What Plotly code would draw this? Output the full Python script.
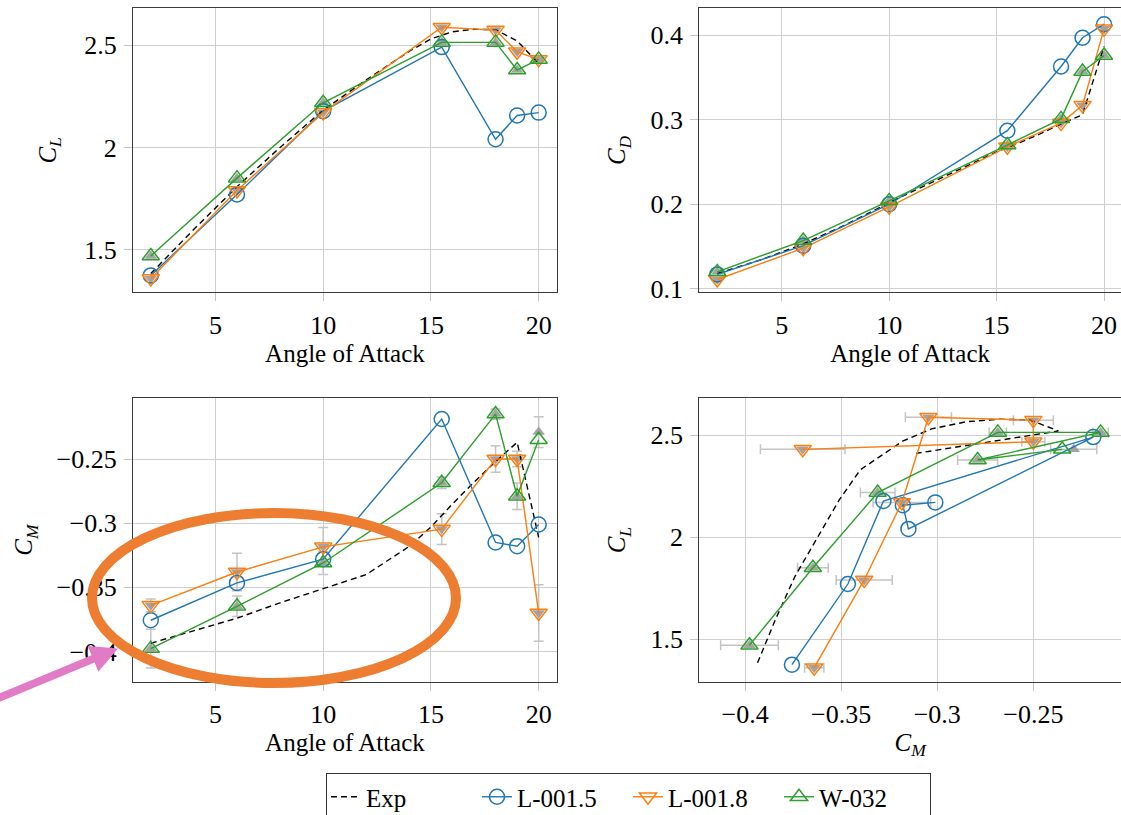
import plotly.graph_objects as go

# ---------------- data ----------------
alpha = [2, 6, 10, 15.5, 18, 19, 20]

exp_alpha = [2, 4, 6, 8, 10, 12, 14, 15, 16, 17, 18, 19, 20]
exp_cl = [1.384, 1.60, 1.808, 2.00, 2.182, 2.33, 2.47, 2.53, 2.565, 2.577, 2.575, 2.52, 2.41]
exp_cd = [0.118, 0.134, 0.153, 0.176, 0.202, 0.226, 0.250, 0.262, 0.272, 0.283, 0.295, 0.306, 0.387]
exp_cm = [-0.3935, -0.384, -0.374, -0.362, -0.351, -0.340, -0.318, -0.303, -0.285, -0.268, -0.252, -0.237, -0.311]

l15_cl = [1.375, 1.77, 2.177, 2.49, 2.04, 2.156, 2.17]
l15_cd = [0.117, 0.151, 0.200, 0.287, 0.363, 0.397, 0.413]
l15_cm = [-0.3756, -0.3465, -0.328, -0.2188, -0.315, -0.3179, -0.301]

l18_cl = [1.36, 1.79, 2.17, 2.587, 2.573, 2.467, 2.43]
l18_cd = [0.111, 0.148, 0.197, 0.268, 0.296, 0.317, 0.4075]
l18_cm = [-0.364, -0.338, -0.3184, -0.3046, -0.250, -0.250, -0.370]

w32_cl = [1.47, 1.85, 2.218, 2.513, 2.513, 2.378, 2.43]
w32_cd = [0.120, 0.157, 0.204, 0.270, 0.301, 0.357, 0.376]
w32_cm = [-0.3977, -0.3647, -0.331, -0.2685, -0.215, -0.279, -0.235]

# ensemble means (grey) with CM uncertainty
l18_mean_cl = [1.36, 1.79, 2.17, 2.587, 2.573, 2.467, 2.43]
l18_mean_cd = [0.111, 0.148, 0.197, 0.268, 0.296, 0.317, 0.4075]
l18_mean_cm = [-0.364, -0.338, -0.3184, -0.3046, -0.250, -0.250, -0.370]
l18_cm_err = [0.005, 0.0146, 0.015, 0.012, 0.0104, 0.006, 0.022]

w32_mean_cl = [1.47, 1.85, 2.218, 2.513, 2.513, 2.378, 2.43]
w32_mean_cd = [0.120, 0.157, 0.204, 0.270, 0.301, 0.357, 0.376]
w32_mean_cm = [-0.3977, -0.3647, -0.331, -0.2685, -0.215, -0.279, -0.229]
w32_cm_err = [0.015, 0.008, 0.009, 0.0045, 0.004, 0.0104, 0.012]

x_ticks = [5, 10, 15, 20]
cl_ticks = [1.5, 2, 2.5]
cd_ticks = [0.1, 0.2, 0.3, 0.4]
cm_ticks = [-0.4, -0.35, -0.3, -0.25]

# ---------------- style ----------------
W, H = 1121, 815
FONT = '"Liberation Serif", "Times New Roman", Tinos, "DejaVu Serif", serif'
BLUE, ORANGE, GREEN = "#1f77b4", "#ff7f0e", "#2ca02c"
GREY = "#a3a3a3"


def fx(p):
    return p / W


def fy(p):
    return 1 - p / H


series = [
    dict(name="Exp", a=exp_alpha, cl=exp_cl, cd=exp_cd, cm=exp_cm,
         line=dict(color="black", width=1.4, dash="6px,4px"), mode="lines", marker=None),
    dict(name="L-001.5", a=alpha, cl=l15_cl, cd=l15_cd, cm=l15_cm,
         line=dict(color=BLUE, width=1.4), mode="lines+markers",
         marker=dict(symbol="circle-open", size=15, color=BLUE, line=dict(width=1.5, color=BLUE))),
    dict(name="L-001.8", a=alpha, cl=l18_cl, cd=l18_cd, cm=l18_cm,
         line=dict(color=ORANGE, width=1.4), mode="lines+markers",
         marker=dict(symbol="triangle-down-open", size=15, color=ORANGE, line=dict(width=1.5, color=ORANGE))),
    dict(name="W-032", a=alpha, cl=w32_cl, cd=w32_cd, cm=w32_cm,
         line=dict(color=GREEN, width=1.4), mode="lines+markers",
         marker=dict(symbol="triangle-up-open", size=15, color=GREEN, line=dict(width=1.5, color=GREEN))),
]

means = [
    dict(a=alpha, cl=l18_mean_cl, cd=l18_mean_cd, cm=l18_mean_cm, err=l18_cm_err, symbol="triangle-down"),
    dict(a=alpha, cl=w32_mean_cl, cd=w32_mean_cd, cm=w32_mean_cm, err=w32_cm_err, symbol="triangle-up"),
]

panels = [("x", "y", "a", "cl"), ("x2", "y2", "a", "cd"), ("x3", "y3", "a", "cm"), ("x4", "y4", "cm", "cl")]

fig = go.Figure()

for pi, (xa, ya, kx, ky) in enumerate(panels):
    for m in means:
        kw = {}
        eb = dict(type="data", array=m["err"], color="#c4c4c4", thickness=1.5, width=5)
        if ky == "cm":
            kw["error_y"] = eb
        if kx == "cm":
            kw["error_x"] = eb
        fig.add_trace(go.Scatter(
            x=m[kx], y=m[ky], xaxis=xa, yaxis=ya, mode="lines+markers", showlegend=False,
            line=dict(color="rgba(170,170,170,0.35)", width=1),
            marker=dict(symbol=m["symbol"], size=11, color=GREY, line=dict(width=0)),
            hoverinfo="skip", **kw))
    for s in series:
        tr = dict(x=s[kx], y=s[ky], xaxis=xa, yaxis=ya, mode=s["mode"], name=s["name"],
                  line=s["line"], showlegend=(pi == 0), legendgroup=s["name"])
        if s["marker"] is not None:
            tr["marker"] = s["marker"]
        fig.add_trace(go.Scatter(**tr))

# ---------------- axes ----------------
left_dom = [fx(132.9), fx(557)]
right_dom = [fx(699.3), 1.0]
top_dom = [fy(292.4), fy(8.4)]
bot_dom = [fy(682), fy(398.3)]

TICKFONT = dict(family=FONT, size=26, color="black")
TITLEFONT = dict(family=FONT, size=25, color="black")


def axis(domain, rng, ticks, texts, anchor, mirror, title, is_x, standoff=None):
    if standoff is None:
        standoff = 5 if is_x else 17
    return dict(domain=domain, range=rng, tickmode="array", tickvals=ticks, ticktext=texts,
                anchor=anchor, showgrid=True, gridcolor="#cfcfcf", gridwidth=1, zeroline=False,
                showline=True, linecolor="#3a3a3a", linewidth=1, mirror=mirror,
                ticks="outside", ticklen=8, tickcolor="#c4c4c4", tickwidth=1,
                ticklabelstandoff=1 if is_x else 2,
                tickfont=TICKFONT, fixedrange=True, automargin=False,
                title=dict(text=title, font=TITLEFONT, standoff=standoff))


def fmt(v):
    return ("%g" % v).replace("-", "\u2212")


xt = [fmt(v) for v in x_ticks]
clt = [fmt(v) for v in cl_ticks]
cdt = [fmt(v) for v in cd_ticks]
cmt = [fmt(v) for v in cm_ticks]

CL = "<i>C</i><sub><i>L</i></sub>"
CD = "<i>C</i><sub><i>D</i></sub>"
CM = "<i>C</i><sub><i>M</i></sub>"
AOA = "Angle of Attack"

fig.update_layout(
    template="none",
    xaxis=axis(left_dom, [1.17, 20.85], x_ticks, xt, "y", True, AOA, True),
    yaxis=axis(top_dom, [1.292, 2.679], cl_ticks, clt, "x", True, CL, False, 20),
    xaxis2=axis(right_dom, [1.163, 20.79], x_ticks, xt, "y2", True, AOA, True),
    yaxis2=axis(top_dom, [0.0957, 0.4317], cd_ticks, cdt, "x2", False, CD, False),
    xaxis3=axis(left_dom, [1.17, 20.85], x_ticks, xt, "y3", True, AOA, True),
    yaxis3=axis(bot_dom, [-0.4237, -0.2027], cm_ticks, cmt, "x3", True, CM, False, 16),
    xaxis4=axis(right_dom, [-0.4238, -0.2044], cm_ticks, cmt, "y4", True, CM, True),
    yaxis4=axis(bot_dom, [1.29, 2.68], cl_ticks, clt, "x4", False, CL, False),
)

# orange ellipse highlight
fig.add_shape(type="circle", xref="paper", yref="paper",
              x0=fx(92), x1=fx(456), y0=fy(683), y1=fy(513),
              line=dict(color="#ED7D31", width=10), layer="above")

# pink arrow (decoration) pointing at the CM axis
tail = (-6.0, 700.0)
tip = (118.0, 648.5)
dx, dy = tip[0] - tail[0], tip[1] - tail[1]
ln = (dx * dx + dy * dy) ** 0.5
ux, uy = dx / ln, dy / ln
nx, ny = -uy, ux
head_len, head_half, shaft_half = 27.0, 14.0, 4.0
neck = (tip[0] - ux * head_len, tip[1] - uy * head_len)
pts = [
    (tail[0] + nx * shaft_half, tail[1] + ny * shaft_half),
    (neck[0] + nx * shaft_half, neck[1] + ny * shaft_half),
    (neck[0] + nx * head_half, neck[1] + ny * head_half),
    tip,
    (neck[0] - nx * head_half, neck[1] - ny * head_half),
    (neck[0] - nx * shaft_half, neck[1] - ny * shaft_half),
    (tail[0] - nx * shaft_half, tail[1] - ny * shaft_half),
]
path = "M " + " L ".join("%.5f,%.5f" % (fx(px), fy(py)) for px, py in pts) + " Z"
fig.add_shape(type="path", xref="paper", yref="paper", path=path,
              fillcolor="#E27BC6", line=dict(width=0), layer="above")

fig.update_layout(
    width=W, height=H, margin=dict(l=0, r=0, t=0, b=0, autoexpand=False),
    paper_bgcolor="white", plot_bgcolor="white",
    font=TITLEFONT,
    legend=dict(orientation="h", x=fx(326), y=fy(773), xanchor="left", yanchor="top",
                bordercolor="#333333", borderwidth=1, bgcolor="white",
                entrywidth=106, entrywidthmode="pixels",
                font=dict(family=FONT, size=25, color="black"), itemsizing="trace"),
    showlegend=True,
)

fig.write_html("out.html")
